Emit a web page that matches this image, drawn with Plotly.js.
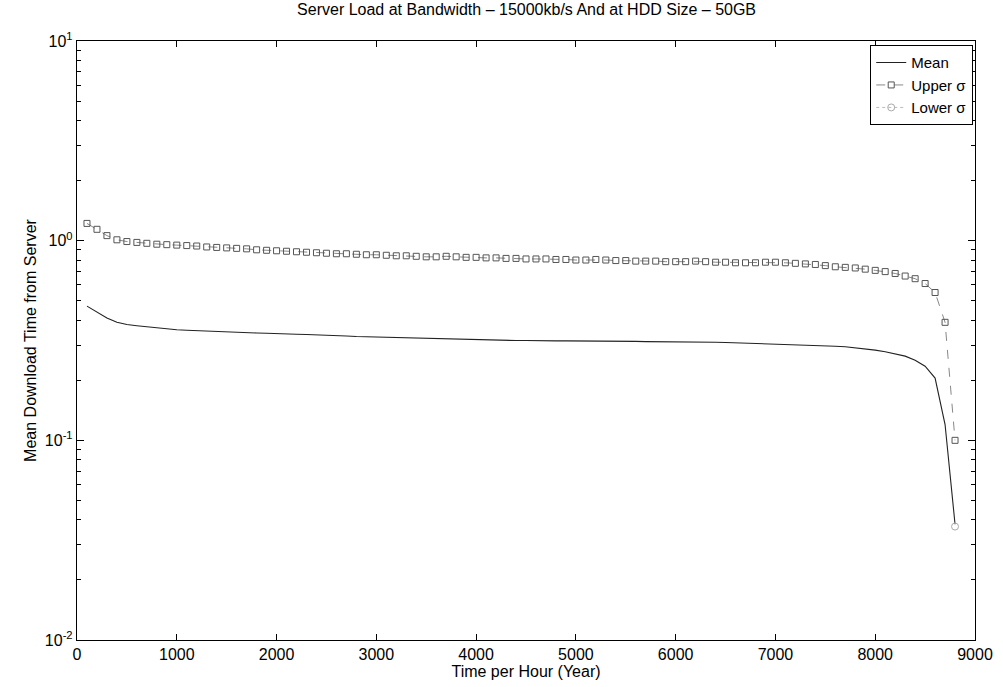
<!DOCTYPE html>
<html>
<head>
<meta charset="utf-8">
<script src="https://cdn.plot.ly/plotly-3.0.1.min.js"></script>
<style>html,body{margin:0;padding:0;background:#fff;}#chart{width:1003px;height:687px;}</style>
</head>
<body>
<div id="chart"></div>
<script>
// Time per hour (x) : 100 .. 8800 every 100
const timeHours = [100,200,300,400,500,600,700,800,900,1000,1100,1200,1300,1400,1500,1600,1700,1800,1900,2000,
2100,2200,2300,2400,2500,2600,2700,2800,2900,3000,3100,3200,3300,3400,3500,3600,3700,3800,3900,4000,
4100,4200,4300,4400,4500,4600,4700,4800,4900,5000,5100,5200,5300,5400,5500,5600,5700,5800,5900,6000,
6100,6200,6300,6400,6500,6600,6700,6800,6900,7000,7100,7200,7300,7400,7500,7600,7700,7800,7900,8000,
8100,8200,8300,8400,8500,8600,8700,8800];

const meanValues = [0.47,0.44,0.41,0.39,0.38,0.375,0.37,0.365,0.36,0.358,0.356,0.354,0.352,0.35,0.349,0.348,0.346,0.345,0.344,0.342,
0.341,0.34,0.339,0.338,0.336,0.335,0.333,0.331,0.33,0.328,0.327,0.326,0.325,0.324,0.323,0.322,0.321,0.32,0.319,0.318,
0.318,0.317,0.317,0.316,0.316,0.315,0.315,0.315,0.315,0.315,0.314,0.314,0.314,0.313,0.313,0.313,0.312,0.312,0.312,0.312,
0.311,0.311,0.31,0.31,0.309,0.308,0.307,0.306,0.305,0.304,0.303,0.302,0.301,0.3,0.298,0.296,0.294,0.291,0.287,0.283,
0.278,0.272,0.264,0.252,0.235,0.205,0.12,0.038];

const upperValues = [1.22,1.14,1.06,1.01,0.99,0.98,0.97,0.96,0.955,0.95,0.945,0.94,0.93,0.925,0.92,0.915,0.91,0.9,0.895,0.89,
0.885,0.88,0.875,0.87,0.865,0.86,0.86,0.855,0.85,0.85,0.845,0.84,0.84,0.835,0.83,0.83,0.835,0.83,0.825,0.825,
0.82,0.82,0.815,0.815,0.81,0.81,0.81,0.805,0.805,0.8,0.8,0.805,0.8,0.795,0.795,0.79,0.79,0.79,0.785,0.785,
0.785,0.79,0.785,0.78,0.78,0.775,0.775,0.775,0.78,0.78,0.775,0.77,0.765,0.76,0.75,0.74,0.735,0.73,0.72,0.71,
0.70,0.685,0.665,0.645,0.61,0.55,0.39,0.1];

// Lower sigma is non-positive (not drawable on log axis) except the final point
const lowerValues = timeHours.map((t, i) => i === timeHours.length - 1 ? 0.037 : null);

const yTickVals = [0.01, 0.1, 1, 10];
const yTickText = ['10<sup>-2</sup>','10<sup>-1</sup>','10<sup>0</sup>','10<sup>1</sup>'];
const yMinorVals = [0.02,0.03,0.04,0.05,0.06,0.07,0.08,0.09,0.2,0.3,0.4,0.5,0.6,0.7,0.8,0.9,2,3,4,5,6,7,8,9];
const xTickVals = [0,1000,2000,3000,4000,5000,6000,7000,8000,9000];

const fam = 'Liberation Sans, Arial, sans-serif';
const font = {family: fam, size: 16, color: '#000'};

const traces = [
  {x: timeHours, y: meanValues, name: 'Mean', type: 'scatter', mode: 'lines',
   line: {color: '#222', width: 1.1}},
  {x: timeHours, y: upperValues, name: 'Upper σ', type: 'scatter', mode: 'lines+markers',
   line: {color: '#888', width: 1, dash: 'dash'},
   marker: {symbol: 'square-open', size: 6, color: '#555', line: {width: 1}}},
  {x: timeHours, y: lowerValues, name: 'Lower σ', type: 'scatter', mode: 'lines+markers',
   line: {color: '#bbb', width: 1, dash: 'dot'},
   marker: {symbol: 'circle-open', size: 7, color: '#aaa', line: {width: 1}}}
];

const layout = {
  width: 1003, height: 687,
  margin: {l: 77, r: 28, t: 41, b: 47},
  paper_bgcolor: '#fff', plot_bgcolor: '#fff',
  font: font,
  showlegend: true,
  title: {text: 'Server Load at Bandwidth – 15000kb/s And at HDD Size – 50GB',
          font: {family: fam, size: 16, color: '#000'}, x: 0.525, xanchor: 'center', y: 0.995, yanchor: 'top'},
  xaxis: {
    range: [0, 9000], tickvals: xTickVals, ticks: 'inside', ticklen: 6, tickcolor: '#000',
    showline: true, linecolor: '#000', linewidth: 1.2, mirror: 'ticks', showgrid: false, zeroline: false,
    tickfont: {family: fam, size: 16, color: '#000'},
    title: {text: 'Time per Hour (Year)', font: {family: fam, size: 16, color: '#000'}, standoff: 0}
  },
  yaxis: {
    type: 'log', range: [-2, 1], tickvals: yTickVals, ticktext: yTickText,
    ticks: 'inside', ticklen: 7, tickcolor: '#000',
    showline: true, linecolor: '#000', linewidth: 1.2, mirror: 'ticks', showgrid: false, zeroline: false,
    minor: {tickmode: 'array', tickvals: yMinorVals, ticks: 'inside', ticklen: 4, tickcolor: '#000', showgrid: false},
    tickfont: {family: fam, size: 16, color: '#000'},
    title: {text: 'Mean Download Time from Server', font: {family: fam, size: 16, color: '#000'}, standoff: 4}
  },
  legend: {
    x: 0.998, xanchor: 'right', y: 0.993, yanchor: 'top',
    bgcolor: '#fff', bordercolor: '#000', borderwidth: 1,
    font: {family: fam, size: 15, color: '#000'},
    itemwidth: 30, tracegroupgap: 0
  }
};

Plotly.newPlot('chart', traces, layout, {staticPlot: true, displayModeBar: false});
</script>
</body>
</html>
